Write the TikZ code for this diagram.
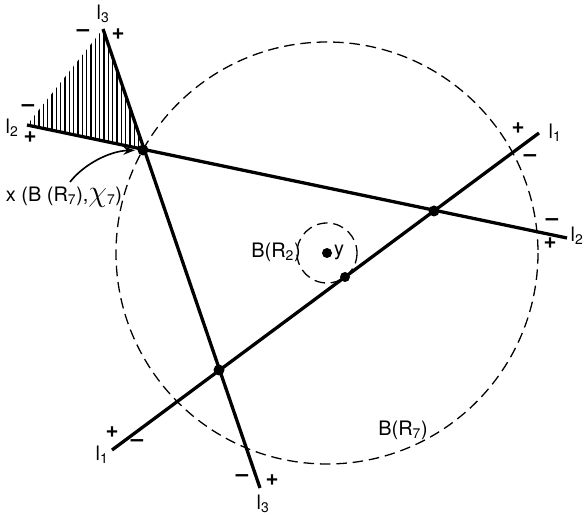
\documentclass[tikz,border=0pt]{standalone}
\usepackage{fontspec}
\setmainfont{TeX Gyre Heros}
\usepackage{graphicx}
\usetikzlibrary{positioning,patterns.meta,arrows.meta}

\begin{document}
\begin{tikzpicture}[x=0.03cm, y=-0.03cm, >=Stealth,
  font=\fontsize{17}{20}\selectfont,
  ln/.style={line width=2.8pt},
  ball/.style={line width=1.1pt, dash pattern=on 9pt off 5pt},
  dot/.style={circle, fill=black, inner sep=0pt, minimum size=0.33cm},
  sg/.style={font=\bfseries\fontsize{19}{20}\selectfont, inner sep=1pt}]
  \useasboundingbox (0,0) rectangle (586,515);
  % --- line ends
  \coordinate (l1s) at (112,450);
  \coordinate (l1e) at (539,133);
  \coordinate (l2s) at (27,125);
  \coordinate (l2e) at (567,238);
  \coordinate (l3s) at (103,29);
  \coordinate (l3e) at (260,488);
  % --- hatched half-plane corner
  \fill[pattern={Lines[angle=90, distance=0.13cm, line width=1pt]}]
    (l3s) -- (l2s) -- (143,150) -- cycle;
  % --- balls round y
  \node[dot, minimum size=0.3cm] (y) at (327,253) {};
  \draw[ball] (y.center) circle[radius=211];
  \draw[ball] (y.center) circle[radius=30];
  % --- the three lines
  \draw[ln] (l1s) -- (l1e);
  \draw[ln] (l2s) -- (l2e);
  \draw[ln] (l3s) -- (l3e);
  % --- points of meeting
  \node[dot] (p23) at (143,150) {};
  \node[dot] (p12) at (434,211) {};
  \node[dot] (p13) at (219,370) {};
  \node[dot, minimum size=0.3cm] (pt) at (345,277) {};
  % --- labels
  \node (yl)  at (339,252) {y};
  \node (br2) at (276,252) {B(R\textsubscript{2})};
  \node (br7) at (403,430) {B(R\textsubscript{7})};
  \node (xlab) at (64,197) {x (B (R\textsubscript{7}),\scalebox{1.5}{$\chi$}\textsubscript{7})};
  \coordinate (xs) at (70,182);
  \draw[line width=1.4pt, shorten >=2pt, -{Stealth[length=0.35cm, width=0.25cm]}]
    (xs) .. controls (84,164) and (110,151) .. (p23);
  % --- line names and signs
  \node (n3t) at (103,14) {l\textsubscript{3}};
  \node[sg] at (83,33) {--};
  \node[sg] at (118,34) {+};
  \node (n2l) at (12,128) {l\textsubscript{2}};
  \node[sg] at (28,108) {--};
  \node[sg] at (30,137) {+};
  \node (n1r) at (555,133) {l\textsubscript{1}};
  \node[sg] at (518,128) {+};
  \node[sg] at (530,158) {--};
  \node (n2r) at (577,236) {l\textsubscript{2}};
  \node[sg] at (552,222) {--};
  \node[sg] at (550,243) {+};
  \node (n1l) at (102,455) {l\textsubscript{1}};
  \node[sg] at (112,432) {+};
  \node[sg] at (137,443) {--};
  \node (n3b) at (263,504) {l\textsubscript{3}};
  \node[sg] at (242,478) {--};
  \node[sg] at (272,480) {+};
\end{tikzpicture}
\end{document}
